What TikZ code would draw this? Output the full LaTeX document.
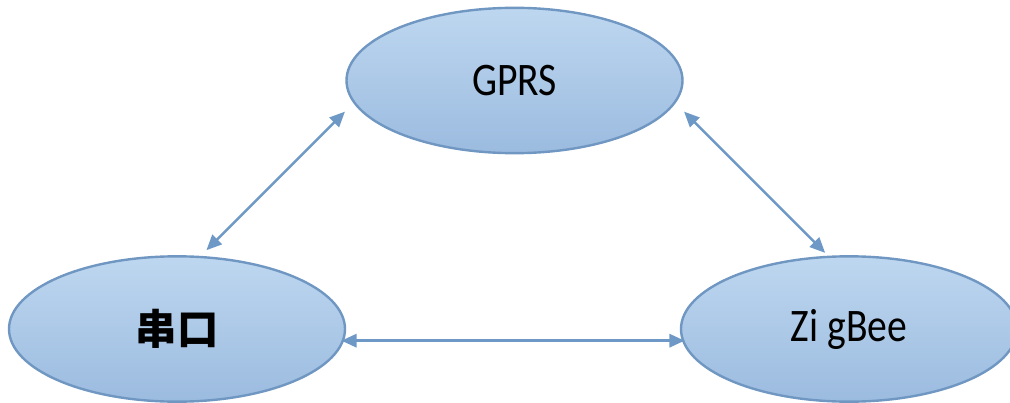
\documentclass[tikz,border=0pt]{standalone}
\usepackage{fontspec}
\setmainfont{Carlito}[FakeStretch=0.85]
\newfontfamily\cjk{Noto Sans CJK SC}
\usetikzlibrary{shapes.geometric,arrows.meta}
\definecolor{edgeblue}{HTML}{6F97C2}
\definecolor{arrowblue}{HTML}{6E99C7}
\definecolor{topfill}{HTML}{BED7F0}
\definecolor{botfill}{HTML}{9BBBDF}
\tikzset{
  bubble/.style={ellipse, draw=edgeblue, line width=1.8pt, top color=topfill, bottom color=botfill,
    minimum width=252pt, minimum height=109pt, inner sep=0pt, font=\fontsize{35}{40}\selectfont},
  link/.style={{Triangle[length=11.5pt,width=10pt]}-{Triangle[length=11.5pt,width=10pt]}, draw=arrowblue, line width=1.9pt}
}
\begin{document}
\begin{tikzpicture}[x=0.75pt,y=-0.75pt]
\useasboundingbox (0,0) rectangle (1010,403);
\clip (0,0) rectangle (1010,403);
\node[bubble] (G) at (514.5,80.5) {GPRS};
\node[bubble] (L) at (177,329) {\cjk\bfseries\fontsize{31}{36}\selectfont 串口};
\node[bubble] (R) at (849,329) {Zi gBee};
\draw[link, shorten <=6pt, shorten >=9pt] (L.72) -- (G.188);
\draw[link, shorten <=9pt, shorten >=3pt] (G.352) -- (R.106);
\draw[link, shorten <=-2pt, shorten >=-2pt] (L.-4) -- (R.184);
\end{tikzpicture}
\end{document}
